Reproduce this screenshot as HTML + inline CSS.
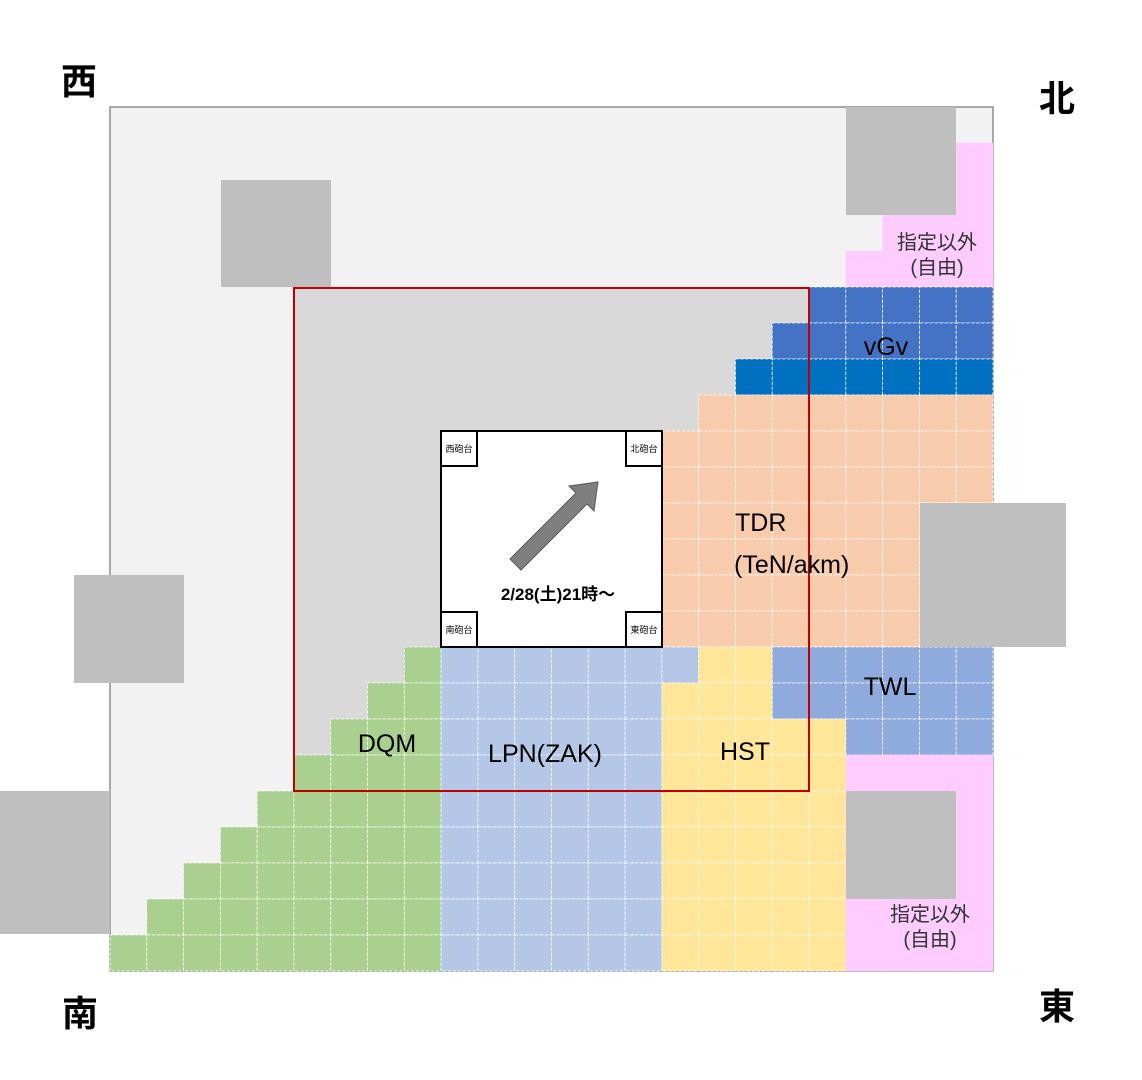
<!DOCTYPE html>
<html><head><meta charset="utf-8"><style>
html,body{margin:0;padding:0;background:#fff;}
svg{display:block;}
text{font-family:"Liberation Sans","Noto Sans CJK JP",sans-serif;}
</style></head><body>
<svg id="s" width="1142" height="1080" xmlns="http://www.w3.org/2000/svg">
<rect x="110" y="107" width="883" height="864" fill="#F2F2F2" stroke="#8c8c8c" stroke-width="1.5"/>
<g id="cells"></g>
<g fill="#BFBFBF">
<rect x="221" y="180" width="110" height="107"/>
<rect x="846" y="107" width="110" height="108"/>
<rect x="920" y="503" width="146" height="144"/>
<rect x="74" y="575" width="110" height="108"/>
<rect x="0" y="791" width="110" height="143"/>
<rect x="846" y="791" width="110" height="108"/>
</g>
<rect x="294" y="288" width="515" height="503" fill="none" stroke="#C00000" stroke-width="2"/>
<rect x="441" y="431" width="221" height="216" fill="#fff" stroke="#000" stroke-width="2"/>
<g fill="#fff" stroke="#000" stroke-width="2">
<rect x="441" y="431" width="36" height="35"/><rect x="626" y="431" width="36" height="35"/>
<rect x="441" y="612" width="36" height="35"/><rect x="626" y="612" width="36" height="35"/>
</g>
<g font-size="9" text-anchor="middle">
<text x="459" y="452">西砲台</text><text x="644" y="452">北砲台</text>
<text x="459" y="633">南砲台</text><text x="644" y="633">東砲台</text>
</g>
<polygon points="510,559 576,493 569,486 598,482 594,511 587,504 521,570" fill="#7F7F7F" stroke="#595959" stroke-width="1"/>
<text x="558" y="600" font-size="17" font-weight="bold" text-anchor="middle">2/28(土)21時～</text>
<g font-size="25" fill="#000">
<text x="886" y="355" text-anchor="middle">vGv</text>
<text x="735" y="531">TDR</text>
<text x="734" y="573">(TeN/akm)</text>
<text x="890" y="695" text-anchor="middle">TWL</text>
<text x="387" y="752" text-anchor="middle">DQM</text>
<text x="545" y="762" text-anchor="middle">LPN(ZAK)</text>
<text x="745" y="760" text-anchor="middle">HST</text>
</g>
<g font-size="20" fill="#333" text-anchor="middle">
<text x="937" y="249">指定以外</text><text x="937" y="274">(自由)</text>
<text x="930" y="921">指定以外</text><text x="930" y="946">(自由)</text>
</g>
<g font-size="36" font-weight="bold" text-anchor="middle">
<text x="79" y="94">西</text><text x="1057" y="111">北</text>
<text x="80" y="1026">南</text><text x="1057" y="1019">東</text>
</g>
</svg>
<script>
(function(){
var g=document.getElementById('cells'),ns='http://www.w3.org/2000/svg';
var cw=883/24,rh=864/24;
function col(r,c){
 if(c==23&&r>=1&&r<=4)return'#FFCCFF';
 if(r==3&&c>=21)return'#FFCCFF';
 if(r==4&&c>=20)return'#FFCCFF';
 if(r==5&&c>=19)return'#4472C4';
 if(r==6&&c>=18)return'#4472C4';
 if(r==7&&c>=17)return'#0070C0';
 if(r==8&&c>=16)return'#F8CBAD';
 if(r>=9&&r<=14&&c>=15)return'#F8CBAD';
 if(r==15){if(c>=9&&c<=15)return'#B4C7E7';if(c==16||c==17)return'#FFE699';if(c>=18)return'#8FAADC';}
 if(r==16){if(c>=9&&c<=14)return'#B4C7E7';if(c>=15&&c<=17)return'#FFE699';if(c>=18)return'#8FAADC';}
 if(r==17){if(c>=9&&c<=14)return'#B4C7E7';if(c>=15&&c<=19)return'#FFE699';if(c>=20)return'#8FAADC';}
 if(r>=18){if(c>=9&&c<=14)return'#B4C7E7';if(c>=15&&c<=19)return'#FFE699';if(c>=20)return'#FFCCFF';}
 if(r>=15&&c<=8&&c>=23-r)return'#A9D08E';
 if(r>=5&&r<=18&&c>=5&&c<=18)return'#D9D9D9';
 return null;
}
for(var r=0;r<24;r++)for(var c=0;c<24;c++){
 var f=col(r,c);if(!f)continue;
 var e=document.createElementNS(ns,'rect');
 e.setAttribute('x',110+c*cw);e.setAttribute('y',107+r*rh);
 e.setAttribute('width',cw);e.setAttribute('height',rh);
 e.setAttribute('fill',f);
 if(f!='#D9D9D9'&&f!='#FFCCFF'){e.setAttribute('stroke','#fff');e.setAttribute('stroke-width','0.8');e.setAttribute('stroke-dasharray','3,2');}
 else{e.setAttribute('stroke',f);e.setAttribute('stroke-width','0.5');}
 g.appendChild(e);
}
})();
</script>
</body></html>
